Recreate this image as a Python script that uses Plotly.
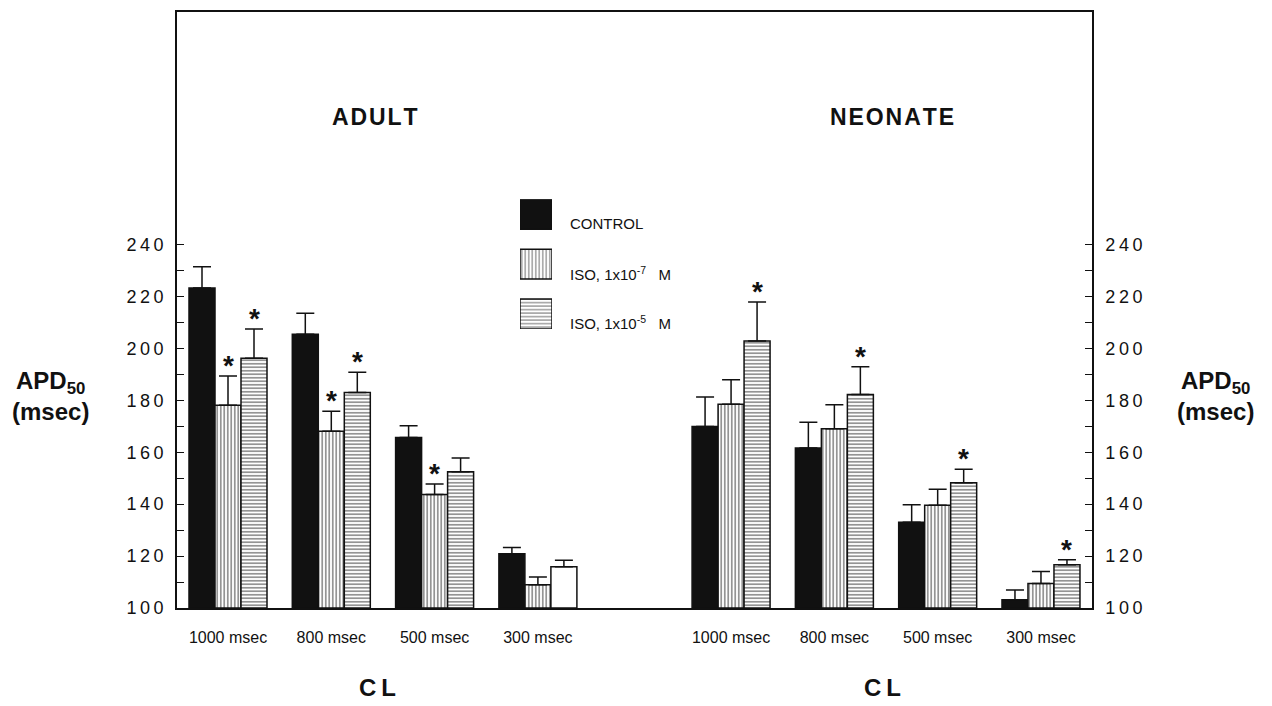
import plotly.graph_objects as go

# ---------------- data ----------------
cl_labels = ["1000 msec", "800 msec", "500 msec", "300 msec"]
panels = ["ADULT", "NEONATE"]
series_names = ["CONTROL", "ISO, 1x10<sup>-7</sup>   M", "ISO, 1x10<sup>-5</sup>   M"]

adult_control = [223.3, 205.4, 165.7, 120.9]
adult_control_err = [8.1, 8.1, 4.5, 2.4]
adult_iso7 = [178.1, 168.1, 143.7, 109.0]
adult_iso7_err = [11.3, 7.7, 4.1, 2.9]
adult_iso5 = [196.2, 183.0, 152.5, 115.9]
adult_iso5_err = [11.3, 7.8, 5.3, 2.5]

neo_control = [169.9, 161.6, 133.0, 103.2]
neo_control_err = [11.4, 9.9, 6.8, 3.7]
neo_iso7 = [178.5, 169.0, 139.6, 109.4]
neo_iso7_err = [9.4, 9.3, 6.1, 4.7]
neo_iso5 = [202.8, 182.2, 148.2, 116.7]
neo_iso5_err = [15.1, 10.7, 5.2, 1.9]

# significance markers (*)
adult_control_sig = [False, False, False, False]
adult_iso7_sig = [True, True, True, False]
adult_iso5_sig = [True, True, False, False]
neo_control_sig = [False, False, False, False]
neo_iso7_sig = [False, False, False, False]
neo_iso5_sig = [True, True, True, True]

y_tick_vals = [100, 120, 140, 160, 180, 200, 220, 240]
y_minor_vals = [110, 130, 150, 170, 190, 210, 230]
y_tick_text = ["1\u20090\u20090", "1\u20092\u20090", "1\u20094\u20090", "1\u20096\u20090",
               "1\u20098\u20090", "2\u20090\u20090", "2\u20092\u20090", "2\u20094\u20090"]

# ---------------- layout constants ----------------
W, H = 1272, 706
L, R, T, B = 177, 1092, 10, 608
group_pos_adult = [0, 1, 2, 3]
group_pos_neo = [4.87, 5.87, 6.87, 7.87]
x_pos = group_pos_adult + group_pos_neo
BARGAP = 0.245
bw = (1 - BARGAP) / 3

def px(x):
    return (x - L) / (R - L)

def py(y):
    return (B - y) / (B - T)

FONT = "Liberation Sans"
INK = "#111111"

values = [adult_control + neo_control, adult_iso7 + neo_iso7, adult_iso5 + neo_iso5]
errors = [adult_control_err + neo_control_err, adult_iso7_err + neo_iso7_err,
          adult_iso5_err + neo_iso5_err]
sigs = [adult_control_sig + neo_control_sig, adult_iso7_sig + neo_iso7_sig,
        adult_iso5_sig + neo_iso5_sig]

# pattern per series (adult 300 msec ISO 1e-5 bar is open/white in the original)
patterns = [
    [""] * 8,
    ["|"] * 8,
    ["-", "-", "-", "", "-", "-", "-", "-"],
]
fills = ["#111111", "white", "white"]

fig = go.Figure()
for i in range(3):
    fig.add_trace(go.Bar(
        x=x_pos, y=[v - 100 for v in values[i]], base=100,
        name=series_names[i], showlegend=False,
        marker=dict(color=fills[i], line=dict(color=INK, width=1.5),
                    pattern=dict(shape=patterns[i], fgcolor=INK, bgcolor="white",
                                 size=3.5, solidity=0.45) if i > 0 else None),
        error_y=dict(type="data", symmetric=False, array=errors[i],
                     arrayminus=[0] * 8, color=INK, thickness=1.5, width=9),
    ))

# asterisks
for i in range(3):
    for k in range(8):
        if sigs[i][k]:
            fig.add_annotation(x=x_pos[k] + (i - 1) * bw, y=values[i][k] + errors[i][k],
                               xref="x", yref="y", text="*", showarrow=False,
                               xanchor="center", yanchor="bottom", yshift=-7,
                               font=dict(family=FONT, size=28, color=INK, weight="bold"))

# dummy on y2 so the right axis is drawn
fig.add_trace(go.Scatter(x=[None], y=[None], yaxis="y2", showlegend=False))

# legend swatches
fig.add_trace(go.Bar(
    x=[1, 1, 1], y=[2, 1, 0], base=0, orientation="h", width=0.6,
    xaxis="x3", yaxis="y3", showlegend=False, hoverinfo="skip",
    marker=dict(color=fills, line=dict(color=INK, width=1.5),
                pattern=dict(shape=["", "|", "-"], fgcolor=INK, bgcolor="white",
                             size=3.5, solidity=0.45)),
))
for j, yy in enumerate([222, 272, 322]):
    fig.add_annotation(x=px(568), y=py(yy), xref="paper", yref="paper",
                       text=series_names[j], showarrow=False,
                       xanchor="left", yanchor="middle",
                       font=dict(family=FONT, size=15, color=INK))

def label(cx, cy, text, size=24, bold=True):
    fig.add_annotation(x=px(cx), y=py(cy), xref="paper", yref="paper",
                       text=text, showarrow=False, xanchor="center", yanchor="middle",
                       font=dict(family=FONT, size=size, color=INK,
                                 weight="bold" if bold else "normal"))

# panel titles
for name, cx in zip(panels, [375, 892]):
    label(cx, 115, "\u200a".join(name), size=23)
for cx in [377, 882]:
    label(cx, 688, "C\u2009L")

# y titles
for cx in [50, 1215]:
    label(cx, 382, "APD<sub>50</sub>")
    label(cx, 411, "(msec)")

yrange = [100, 100 + (B - T) / 2.605]
yaxis_common = dict(range=yrange, tickvals=y_tick_vals, ticktext=y_tick_text,
                    ticks="inside", ticklen=7, tickwidth=1.3, tickcolor=INK,
                    showline=True, linecolor=INK, linewidth=1.5,
                    showgrid=False, zeroline=False, ticklabelstandoff=8,
                    minor=dict(tickvals=y_minor_vals, ticks="inside", ticklen=7,
                               tickwidth=1.3, tickcolor=INK, showgrid=False),
                    tickfont=dict(family=FONT, size=18, color=INK))

fig.update_layout(
    width=W, height=H,
    margin=dict(l=L, r=W - R, t=T, b=H - B),
    paper_bgcolor="white", plot_bgcolor="white",
    barmode="group", bargap=BARGAP, bargroupgap=0,
    xaxis=dict(range=[(L - 228) / 103.3, (R - 228) / 103.3], tickvals=x_pos,
               ticktext=cl_labels * 2, ticks="", showline=True, mirror=True,
               linecolor=INK, linewidth=1.5, showgrid=False, zeroline=False,
               ticklabelstandoff=14,
               tickfont=dict(family=FONT, size=16, color=INK)),
    yaxis=yaxis_common,
    yaxis2=dict(overlaying="y", side="right", **yaxis_common),
    xaxis3=dict(domain=[px(520), px(552)], range=[0, 1], visible=False, anchor="y3"),
    yaxis3=dict(domain=[py(328), py(198)], range=[-0.3, 2.3], visible=False,
                anchor="x3"),
    showlegend=False,
)

fig.write_html("out.html")
